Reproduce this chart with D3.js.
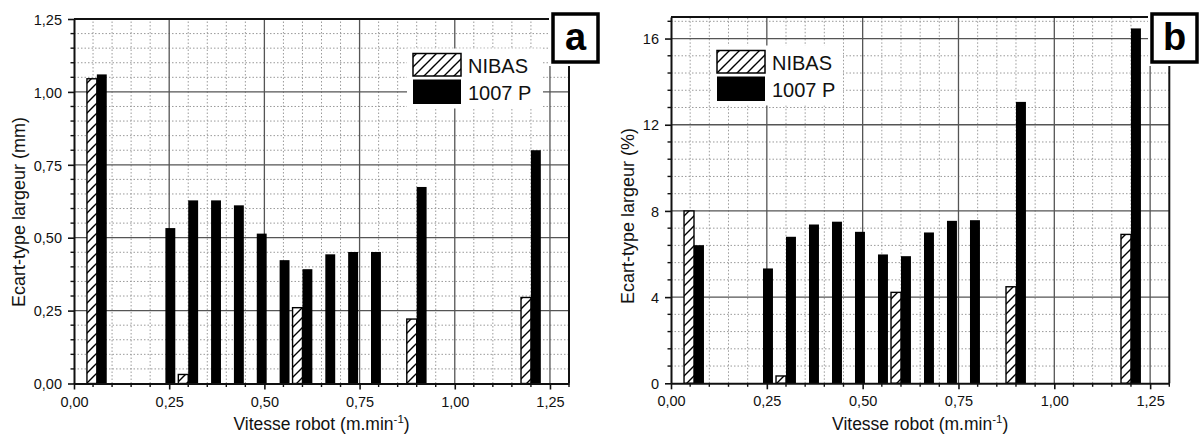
<!DOCTYPE html>
<html>
<head>
<meta charset="utf-8">
<script src="https://cdn.jsdelivr.net/npm/d3@7"></script>
<style>
  html, body { margin: 0; padding: 0; background: #fff; }
  svg { display: block; font-family: "Liberation Sans", Arial, sans-serif; }
</style>
</head>
<body>
<svg id="chart" width="1200" height="434"></svg>
<script>
// ---- data ----
const speeds = [0.06, 0.24, 0.30, 0.36, 0.42, 0.48, 0.54, 0.60, 0.66, 0.72, 0.78, 0.90, 1.20];
const nibasMm  = [1.045, null, 0.031, null, null, null, null, 0.26, null, null, null, 0.221, 0.295];
const p1007Mm  = [1.06, 0.533, 0.628, 0.628, 0.611, 0.514, 0.423, 0.392, 0.443, 0.451, 0.451, 0.674, 0.80];
const nibasPct = [8.0, null, 0.34, null, null, null, null, 4.22, null, null, null, 4.48, 6.91];
const p1007Pct = [6.41, 5.33, 6.8, 7.37, 7.5, 7.03, 5.98, 5.9, 7.0, 7.54, 7.57, 13.06, 16.47];
const seriesNames = ["NIBAS", "1007 P"];
const xMajorTicks = [0, 0.25, 0.5, 0.75, 1.0, 1.25];
const yMajorTicksA = [0, 0.25, 0.5, 0.75, 1.0, 1.25];
const yMajorTicksB = [0, 4, 8, 12, 16];
const panelLetters = ["a", "b"];
const yTitles = ["Ecart-type largeur (mm)", "Ecart-type largeur (%)"];

const svg = d3.select("#chart");
const defs = svg.append("defs");
const pat = defs.append("pattern")
  .attr("id", "hatch").attr("patternUnits", "userSpaceOnUse")
  .attr("width", 10).attr("height", 10);
pat.append("rect").attr("width", 10).attr("height", 10).attr("fill", "#fff");
pat.append("path")
  .attr("d", "M-1,1 L1,-1 M0,10 L10,0 M9,11 L11,9")
  .attr("stroke", "#000").attr("stroke-width", 1.4);

const fmtComma = d => d3.format(".2f")(d).replace(".", ",");

function panel(cfg) {
  const x = d3.scaleLinear().domain([0, 1.3]).range([cfg.x0, cfg.x1]);
  const y = d3.scaleLinear().domain([0, cfg.yMax]).range([cfg.y0, cfg.y1]);
  const g = svg.append("g");

  const xMinor = d3.range(0, 1.3001, 0.05).map(v => +v.toFixed(2));
  const yMinor = d3.range(0, cfg.yMax + 1e-9, cfg.yMinorStep).map(v => +v.toFixed(3));

  // minor grid
  g.append("g").selectAll("line").data(xMinor.filter(v => !cfg.xMajor.some(m => Math.abs(m - v) < 1e-6) && v > 0 && v < 1.3))
    .join("line")
    .attr("x1", d => x(d)).attr("x2", d => x(d)).attr("y1", y(0)).attr("y2", y(cfg.yMax))
    .attr("stroke", "#9a9a9a").attr("stroke-width", 1).attr("stroke-dasharray", "1.5,2");
  g.append("g").selectAll("line").data(yMinor.filter(v => !cfg.yMajor.some(m => Math.abs(m - v) < 1e-6) && v > 0 && v < cfg.yMax))
    .join("line")
    .attr("y1", d => y(d)).attr("y2", d => y(d)).attr("x1", x(0)).attr("x2", x(1.3))
    .attr("stroke", "#9a9a9a").attr("stroke-width", 1).attr("stroke-dasharray", "1.5,2");
  // major grid
  g.append("g").selectAll("line").data(cfg.xMajor.filter(v => v > 0))
    .join("line")
    .attr("x1", d => x(d)).attr("x2", d => x(d)).attr("y1", y(0)).attr("y2", y(cfg.yMax))
    .attr("stroke", "#555").attr("stroke-width", 1.3);
  g.append("g").selectAll("line").data(cfg.yMajor.filter(v => v > 0))
    .join("line")
    .attr("y1", d => y(d)).attr("y2", d => y(d)).attr("x1", x(0)).attr("x2", x(1.3))
    .attr("stroke", "#555").attr("stroke-width", 1.3);

  // frame (top + right)
  g.append("line").attr("x1", x(0)).attr("x2", x(1.3)).attr("y1", y(cfg.yMax)).attr("y2", y(cfg.yMax))
    .attr("stroke", "#111").attr("stroke-width", 2);
  g.append("line").attr("x1", x(1.3)).attr("x2", x(1.3)).attr("y1", y(0)).attr("y2", y(cfg.yMax))
    .attr("stroke", "#111").attr("stroke-width", 2);

  // bars
  const bw = x(0.026) - x(0);
  const rows = speeds.map((s, i) => ({ s, a: cfg.nib[i], b: cfg.p[i] }));
  g.append("g").selectAll("rect").data(rows.filter(r => r.a != null))
    .join("rect")
    .attr("x", d => x(d.s) - bw).attr("width", bw)
    .attr("y", d => y(d.a)).attr("height", d => y(0) - y(d.a))
    .attr("fill", "url(#hatch)").attr("stroke", "#000").attr("stroke-width", 1.4);
  g.append("g").selectAll("rect").data(rows.filter(r => r.b != null))
    .join("rect")
    .attr("x", d => x(d.s)).attr("width", bw)
    .attr("y", d => y(d.b)).attr("height", d => y(0) - y(d.b))
    .attr("fill", "#000");

  // axes
  const xAx = g.append("g").attr("transform", `translate(0,${y(0)})`)
    .call(d3.axisBottom(x).tickValues(cfg.xMajor).tickFormat(fmtComma).tickSize(6).tickSizeOuter(0));
  xAx.select(".domain").attr("stroke", "#111").attr("stroke-width", 2);
  xAx.selectAll(".tick line").attr("stroke", "#111").attr("stroke-width", 1.6);
  xAx.selectAll(".tick text").attr("y", 23).attr("dy", null)
    .attr("font-size", 14.5).attr("fill", "#111").attr("font-family", "Liberation Sans, Arial");
  g.append("g").selectAll("line").data(xMinor.filter(v => !cfg.xMajor.some(m => Math.abs(m - v) < 1e-6)))
    .join("line").attr("x1", d => x(d)).attr("x2", d => x(d)).attr("y1", y(0)).attr("y2", y(0) + 3.5)
    .attr("stroke", "#111").attr("stroke-width", 1.4);

  const yAx = g.append("g").attr("transform", `translate(${x(0)},0)`)
    .call(d3.axisLeft(y).tickValues(cfg.yMajor).tickFormat(cfg.yFmt).tickSize(6).tickSizeOuter(0));
  yAx.select(".domain").attr("stroke", "#111").attr("stroke-width", 2);
  yAx.selectAll(".tick line").attr("stroke", "#111").attr("stroke-width", 1.6);
  yAx.selectAll(".tick text").attr("x", -12).attr("dy", "0.36em")
    .attr("font-size", 14.5).attr("fill", "#111").attr("font-family", "Liberation Sans, Arial");
  g.append("g").selectAll("line").data(yMinor.filter(v => !cfg.yMajor.some(m => Math.abs(m - v) < 1e-6)))
    .join("line").attr("y1", d => y(d)).attr("y2", d => y(d)).attr("x1", x(0)).attr("x2", x(0) - 3.5)
    .attr("stroke", "#111").attr("stroke-width", 1.4);

  // axis titles
  const xt = g.append("text").attr("x", (x(0) + x(1.3)) / 2).attr("y", 429.5)
    .attr("text-anchor", "middle").attr("font-size", 17.5).attr("fill", "#111");
  xt.append("tspan").text("Vitesse robot (m.min");
  xt.append("tspan").attr("font-size", 11.5).attr("dy", -7).text("-1");
  xt.append("tspan").attr("dy", 7).text(")");
  g.append("text").attr("transform", `translate(${cfg.yTitleX},${cfg.yTitleY}) rotate(-90)`)
    .attr("text-anchor", "middle").attr("font-size", 18).attr("fill", "#111").text(cfg.yTitle);

  // corner cover + panel letter box
  g.append("rect").attr("x", cfg.boxX - 4).attr("y", 0).attr("width", 52)
    .attr("height", 66).attr("fill", "#fff");
  g.append("rect").attr("x", cfg.boxX).attr("y", 14).attr("width", 45).attr("height", 48)
    .attr("fill", "#fff").attr("stroke", "#000").attr("stroke-width", 3.5);
  g.append("text").attr("x", cfg.boxX + 22.5).attr("y", 50).attr("text-anchor", "middle")
    .attr("font-size", 38).attr("font-weight", "bold").attr("fill", "#000").text(cfg.letter);

  // legend
  const L = cfg.leg;
  g.append("rect").attr("x", L.bgX).attr("y", L.sy - 5).attr("width", L.bgW).attr("height", 60).attr("fill", "#fff");
  g.append("rect").attr("x", L.sx).attr("y", L.sy).attr("width", 48).attr("height", 22.5)
    .attr("fill", "url(#hatch)").attr("stroke", "#000").attr("stroke-width", 1.5);
  g.append("rect").attr("x", L.sx).attr("y", L.sy + 26).attr("width", 48).attr("height", 24.5).attr("fill", "#000");
  g.append("text").attr("x", L.sx + 55).attr("y", L.sy + 19).attr("font-size", 20).attr("fill", "#111").text(seriesNames[0]);
  g.append("text").attr("x", L.sx + 55).attr("y", L.sy + 46.5).attr("font-size", 20).attr("fill", "#111").text(seriesNames[1]);
}

panel({
  x0: 74, x1: 569, y0: 383.5, y1: 19, yMax: 1.25, yMinorStep: 0.05,
  xMajor: xMajorTicks, yMajor: yMajorTicksA, yFmt: fmtComma,
  nib: nibasMm, p: p1007Mm, yTitle: yTitles[0], yTitleX: 25, yTitleY: 212,
  boxX: 553, letter: panelLetters[0],
  leg: { bgX: 407, bgW: 136, sx: 413, sy: 53.5 }
});
panel({
  x0: 671, x1: 1169.3, y0: 383.3, y1: 17, yMax: 17, yMinorStep: 0.8,
  xMajor: xMajorTicks, yMajor: yMajorTicksB, yFmt: d3.format("d"),
  nib: nibasPct, p: p1007Pct, yTitle: yTitles[1], yTitleX: 634, yTitleY: 216,
  boxX: 1152, letter: panelLetters[1],
  leg: { bgX: 712, bgW: 131, sx: 717, sy: 50.5 }
});
</script>
</body>
</html>
